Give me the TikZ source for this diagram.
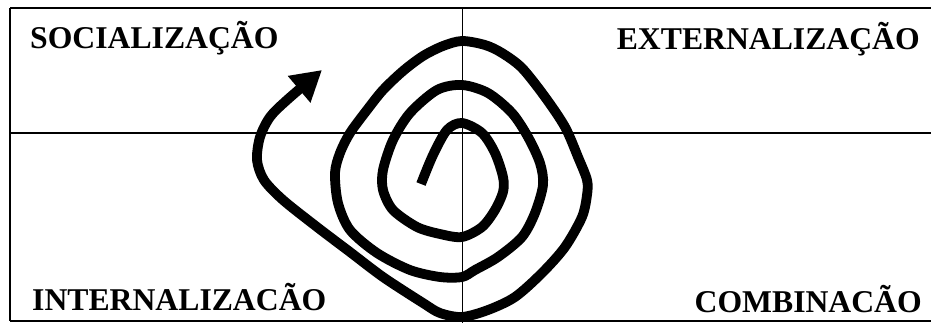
\documentclass[tikz,border=0pt]{standalone}
\usepackage{fontspec}
\setmainfont{Liberation Serif}
\usetikzlibrary{arrows.meta}
\begin{document}
\begin{tikzpicture}[x=1pt,y=-1pt,
  gridline/.style={line width=1.6pt,black},
  label/.style={inner sep=0pt,font=\fontsize{31.7}{36}\selectfont\bfseries},
  spiralline/.style={line width=9.8pt,black,line join=round,
    -{Triangle[length=30pt,width=33pt]}}]
\useasboundingbox (0,0) rectangle (931,323);
% grid
\coordinate (tl) at (10,8);
\coordinate (tr) at (931,8);
\coordinate (ml) at (10,133);
\coordinate (mr) at (931,133);
\coordinate (bl) at (10,321);
\coordinate (br) at (931,321);
\coordinate (vt) at (462.5,8);
\coordinate (vb) at (462.5,323);
% spiral
\draw[spiralline] plot[smooth,tension=0.5] coordinates {
 (421,184) (433,155) (447,130) (462,123) (482,133) (495,153) (503,177)
 (503,192) (495,210) (482,227) (462,237) (440,234) (417,227) (393,210)
 (383,190) (383,170) (393,140) (410,113) (437,90) (462,85) (488,93)
 (512,113) (528,137) (540,163) (543,185) (535,213) (522,237) (498,257)
 (475,270) (462,277) (440,277) (410,270) (377,253) (350,230) (338,203)
 (335,173) (340,153) (350,133) (367,110) (383,90) (403,71) (423,56)
 (443,46) (462,41) (485,45) (502,53) (522,68) (545,97) (565,127)
 (578,157) (587,180) (587,195) (582,217) (565,247) (542,273) (515,297)
 (488,310) (462,317) (440,313) (423,303) (383,277) (350,252) (317,227)
 (283,200) (264,180) (257,160) (260,137) (270,117) (287,100) (322,70)};
\draw[gridline] (tl) -- (tr);
\draw[gridline] (ml) -- (mr);
\draw[gridline] (bl) -- (br);
\draw[gridline] (tl) -- (bl);
\draw[gridline] (vt) -- (vb);
% labels
\node[label,anchor=base west] (soc) at (30,49) {SOCIALIZAÇÃO};
\node[label,anchor=base east] (ext) at (920,50) {EXTERNALIZAÇÃO};
\node[label,anchor=base west] (int) at (32,310) {INTERNALIZACÃO};
\node[label,anchor=base east] (com) at (922,312) {COMBINACÃO};
\end{tikzpicture}
\end{document}
